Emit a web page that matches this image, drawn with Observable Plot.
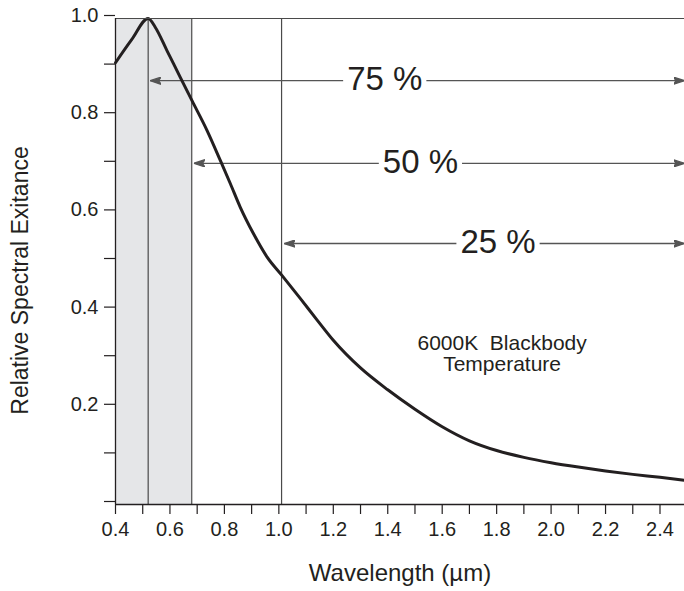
<!DOCTYPE html>
<html>
<head>
<meta charset="utf-8">
<script src="https://cdn.jsdelivr.net/npm/d3@7"></script>
<script src="https://cdn.jsdelivr.net/npm/@observablehq/plot@0.6"></script>
<style>
  html, body { margin: 0; padding: 0; background: #fff; }
  #chart { width: 684px; height: 591px; }
</style>
</head>
<body>
<div id="chart"></div>
<script>
// Curve: wavelength (µm) and relative spectral exitance
const wavelength = [0.40, 0.46, 0.52, 0.546, 0.589, 0.638, 0.681, 0.736, 0.785, 0.822, 0.858, 0.907, 0.957, 1.012, 1.08, 1.14, 1.20, 1.30, 1.40, 1.50, 1.60, 1.70, 1.80, 1.90, 2.00, 2.10, 2.20, 2.30, 2.40, 2.49];
const exitance   = [0.909, 0.957, 1.000, 0.982, 0.934, 0.879, 0.831, 0.770, 0.708, 0.660, 0.612, 0.557, 0.509, 0.471, 0.423, 0.380, 0.338, 0.281, 0.236, 0.196, 0.160, 0.131, 0.111, 0.097, 0.086, 0.077, 0.069, 0.062, 0.056, 0.050];

// Shaded band and vertical markers (µm)
const shadeRange = [0.40, 0.68];
const markerLines = [0.52, 0.68, 1.01];

// Percent annotations: label, arrow start (µm), arrow level, label centre (µm)
const pctLabels = ["75 %", "50 %", "25 %"];
const pctStart  = [0.527, 0.688, 1.02];
const pctLevel  = [0.872, 0.702, 0.537];
const pctLabelX = [1.389, 1.52, 1.805];
const arrowEnd = 2.49;

// Ticks
const xTicks = [0.4, 0.5, 0.6, 0.7, 0.8, 0.9, 1.0, 1.1, 1.2, 1.3, 1.4, 1.5, 1.6, 1.7, 1.8, 1.9, 2.0, 2.1, 2.2, 2.3, 2.4];
const xTickLabels = ["0.4", "0.6", "0.8", "1.0", "1.2", "1.4", "1.6", "1.8", "2.0", "2.2", "2.4"];
const yTicks = [0, 0.1, 0.2, 0.3, 0.4, 0.5, 0.6, 0.7, 0.8, 0.9, 1.0];
const yTickLabels = ["0.2", "0.4", "0.6", "0.8", "1.0"];

const note = "6000K\u00a0 Blackbody\nTemperature";
const noteX = 1.82, noteY = 0.31;

const curve = wavelength.map((w, i) => ({w, v: exitance[i]}));
const pct = pctLabels.map((t, i) => ({t, x1: pctStart[i], y: pctLevel[i], lx: pctLabelX[i]}));

const ink = "#231f20";
const lineGray = "#4a4a4a";

function arrowHead(color) {
  const m = d3.create("svg:marker")
    .attr("viewBox", "-11 -4 11 8")
    .attr("markerWidth", 11)
    .attr("markerHeight", 8)
    .attr("markerUnits", "userSpaceOnUse")
    .attr("refX", 0)
    .attr("refY", 0)
    .attr("orient", "auto-start-reverse")
    .attr("fill", color);
  m.append("path").attr("d", "M-11,-3.6L0,0L-11,3.6L-8.5,0Z");
  return m.node();
}

const fmt = (labels) => (d) => {
  const s = d.toFixed(1);
  return labels.includes(s) ? s : "";
};

const chart = Plot.plot({
  width: 684,
  height: 591,
  marginLeft: 115,
  marginRight: 0,
  marginTop: 18,
  marginBottom: 87,
  style: {fontFamily: "'Liberation Sans', Arial, sans-serif", fontSize: "18px", color: ink, background: "#fff", overflow: "visible"},
  x: {domain: [0.4, 2.49]},
  y: {domain: [0, 1]},
  marks: [
    Plot.rect([shadeRange], {x1: d => d[0], x2: d => d[1], y1: 0, y2: 1, fill: "#e5e6e8"}),
    Plot.ruleX(markerLines, {y1: 0, y2: 1, stroke: lineGray, strokeWidth: 1.2}),
    Plot.link(pct, {x1: "x1", x2: () => arrowEnd, y1: "y", y2: "y", stroke: "#555", strokeWidth: 1.3, markerStart: arrowHead, markerEnd: arrowHead}),
    Plot.text(pct, {x: "lx", y: "y", text: "t", fontSize: 33, fill: ink, dy: -1}),
    Plot.line(curve, {x: "w", y: "v", stroke: ink, strokeWidth: 3, curve: "monotone-x"}),
    Plot.text([note], {x: () => noteX, y: () => noteY, fontSize: 21, lineHeight: 1.0, fill: ink}),
    Plot.ruleY([1], {stroke: lineGray, strokeWidth: 1.2}),
    Plot.ruleY([0], {stroke: ink, strokeWidth: 1.3}),
    Plot.ruleX([0.4], {y1: 0, y2: 1, stroke: ink, strokeWidth: 1.3}),
    Plot.axisX({ticks: xTicks, tickFormat: fmt(xTickLabels), tickSize: 10, tickPadding: 7, fontSize: 20, label: null, strokeWidth: 1.2}),
    Plot.axisY({ticks: yTicks, tickFormat: fmt(yTickLabels), tickSize: 11, tickPadding: 6, fontSize: 20, label: null, strokeWidth: 1.2, dy: -3}),
    Plot.text(["Wavelength (µm)"], {frameAnchor: "bottom", dy: 76, fontSize: 24, fill: ink}),
    Plot.text(["Relative Spectral Exitance"], {frameAnchor: "left", textAnchor: "middle", dx: -95, dy: 19, rotate: -90, fontSize: 23, fill: ink})
  ]
});

document.getElementById("chart").appendChild(chart);

const svgNS = "http://www.w3.org/2000/svg";
const tickLabelSet = new Set([...xTickLabels, ...yTickLabels]);
chart.querySelectorAll("text").forEach(t => {
  const s = t.textContent;
  // tick labels: force size (the axis may not honour fontSize)
  if (tickLabelSet.has(s)) {
    t.setAttribute("font-size", 20);
    t.style.fontSize = "20px";
    return;
  }
  // white backing behind the percent labels so the arrow lines break around them
  if (!pctLabels.includes(s)) return;
  const b = t.getBBox();
  const r = document.createElementNS(svgNS, "rect");
  r.setAttribute("x", b.x - 4);
  r.setAttribute("y", b.y + b.height * 0.2);
  r.setAttribute("width", b.width + 8);
  r.setAttribute("height", b.height * 0.6);
  r.setAttribute("fill", "#fff");
  const tr = t.getAttribute("transform");
  if (tr) r.setAttribute("transform", tr);
  t.parentNode.insertBefore(r, t);
});
</script>
</body>
</html>
